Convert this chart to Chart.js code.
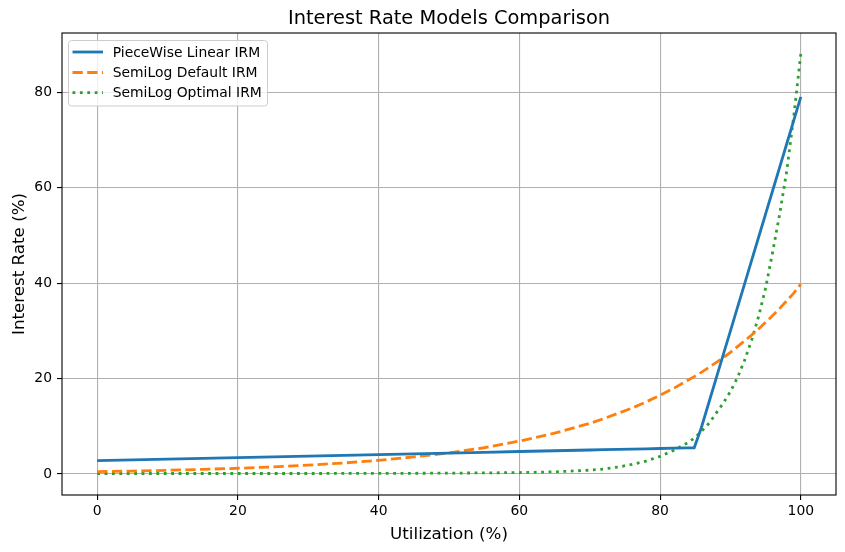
<!DOCTYPE html>
<html>
<head>
<meta charset="utf-8">
<script src="https://cdn.jsdelivr.net/npm/chart.js@4.4.1/dist/chart.umd.min.js"></script>
<style>
  html, body { margin: 0; padding: 0; background: #fff; }
  canvas { display: block; }
</style>
</head>
<body>
<canvas id="grafik" width="845" height="552"></canvas>
<script>
// utilisasi (%) - titik sampel
const utilisasi = [0, 5, 10, 15, 20, 25, 30, 35, 40, 45, 50, 55, 60, 65, 70, 72, 74, 76, 78, 80, 82, 84, 84.85, 85.86, 87, 88, 89, 90, 91, 92, 93, 94, 95, 96, 97, 98, 99, 100];

const pieceWise = [2.8, 2.96, 3.12, 3.28, 3.44, 3.6, 3.75, 3.91, 4.07, 4.23, 4.39, 4.55, 4.71, 4.87, 5.03, 5.09, 5.15, 5.22, 5.28, 5.34, 5.41, 5.47, 5.5, 9.7, 15.3, 20.2, 25.1, 30.0, 34.9, 39.8, 44.7, 49.6, 54.5, 59.4, 64.3, 69.2, 74.1, 79.0];
const semiLogDefault = [0.5, 0.62, 0.78, 0.97, 1.2, 1.49, 1.86, 2.3, 2.87, 3.57, 4.44, 5.5, 6.9, 8.55, 10.6, 11.6, 12.7, 13.8, 15.1, 16.5, 18.0, 19.7, 20.4, 21.3, 22.4, 23.4, 24.4, 25.5, 26.7, 27.9, 29.1, 30.4, 31.8, 33.2, 34.7, 36.3, 37.9, 39.8];
const semiLogOptimal = [0.1, 0.1, 0.1, 0.1, 0.1, 0.1, 0.1, 0.12, 0.13, 0.15, 0.18, 0.23, 0.3, 0.45, 0.8, 1.05, 1.45, 2.0, 2.7, 3.7, 5.0, 6.6, 7.5, 8.9, 10.7, 12.8, 14.9, 17.3, 20.2, 23.8, 28.0, 33.0, 39.0, 46.5, 54.5, 63.5, 75.0, 88.0];

const seriesLabels = ["PieceWise Linear IRM", "SemiLog Default IRM", "SemiLog Optimal IRM"];
const xTicks = [0, 20, 40, 60, 80, 100];
const yTicks = [0, 20, 40, 60, 80];

const FONT = "'DejaVu Sans', sans-serif";

function toPoints(arr) {
  return utilisasi.map((u, i) => ({ x: u, y: arr[i] }));
}

const hiasan = {
  id: "hiasan",
  afterDraw(chart) {
    const ctx = chart.ctx;
    const a = chart.chartArea;
    ctx.save();
    // bingkai
    ctx.strokeStyle = "#000";
    ctx.lineWidth = 1.1;
    ctx.strokeRect(a.left, a.top, a.right - a.left, a.bottom - a.top);

    // judul
    ctx.fillStyle = "#000";
    ctx.textAlign = "center";
    ctx.textBaseline = "alphabetic";
    ctx.font = "19.4px " + FONT;
    ctx.fillText("Interest Rate Models Comparison", (a.left + a.right) / 2, 24);

    // label sumbu
    ctx.font = "16.7px " + FONT;
    ctx.fillText("Utilization (%)", (a.left + a.right) / 2, 539);
    ctx.save();
    ctx.translate(24, (a.top + a.bottom) / 2);
    ctx.rotate(-Math.PI / 2);
    ctx.fillText("Interest Rate (%)", 0, 0);
    ctx.restore();

    // legenda
    const lx = 68.5, ly = 40.5, lw = 199, lh = 65.5;
    ctx.beginPath();
    ctx.roundRect(lx, ly, lw, lh, 3);
    ctx.fillStyle = "rgba(255,255,255,0.8)";
    ctx.fill();
    ctx.strokeStyle = "#cccccc";
    ctx.lineWidth = 1;
    ctx.stroke();

    const rows = [52, 72.5, 92.7];
    ctx.font = "13.9px " + FONT;
    ctx.textAlign = "left";
    ctx.textBaseline = "middle";
    chart.data.datasets.forEach((ds, i) => {
      ctx.beginPath();
      ctx.strokeStyle = ds.borderColor;
      ctx.lineWidth = ds.borderWidth;
      ctx.lineCap = "butt";
      ctx.setLineDash(ds.borderDash || []);
      ctx.moveTo(72.5, rows[i]);
      ctx.lineTo(103, rows[i]);
      ctx.stroke();
      ctx.setLineDash([]);
      ctx.fillStyle = "#000";
      ctx.fillText(ds.label, 112.7, rows[i] + 1);
    });
    ctx.restore();
  }
};

const ctx = document.getElementById("grafik").getContext("2d");
const chart = new Chart(ctx, {
  type: "line",
  data: {
    datasets: [
      {
        label: seriesLabels[0],
        data: toPoints(pieceWise),
        borderColor: "#1f77b4",
        borderWidth: 2.8,
        pointRadius: 0,
        fill: false
      },
      {
        label: seriesLabels[1],
        data: toPoints(semiLogDefault),
        borderColor: "#ff7f0e",
        borderWidth: 2.8,
        borderDash: [10.3, 4.4],
        borderCapStyle: "butt",
        pointRadius: 0,
        fill: false
      },
      {
        label: seriesLabels[2],
        data: toPoints(semiLogOptimal),
        borderColor: "#2ca02c",
        borderWidth: 2.8,
        borderDash: [2.8, 4.6],
        borderCapStyle: "butt",
        pointRadius: 0,
        fill: false
      }
    ]
  },
  options: {
    responsive: false,
    animation: false,
    layout: { padding: { top: 33, right: 9, left: 0, bottom: 0 } },
    plugins: {
      legend: { display: false },
      title: { display: false },
      tooltip: { enabled: false }
    },
    scales: {
      x: {
        type: "linear",
        min: -5,
        max: 105,
        afterBuildTicks: s => { s.ticks = xTicks.map(v => ({ value: v })); },
        afterFit: s => { s.height = 57; },
        border: { display: false },
        grid: { color: "#b0b0b0", lineWidth: 1.1, tickLength: 5, tickColor: "#000", tickWidth: 1.1 },
        ticks: { color: "#000", font: { family: FONT, size: 13.9 }, padding: 3, maxRotation: 0 }
      },
      y: {
        type: "linear",
        min: -4.4,
        max: 92.4,
        afterBuildTicks: s => { s.ticks = yTicks.map(v => ({ value: v })); },
        afterFit: s => { s.width = 62; },
        border: { display: false },
        grid: { color: "#b0b0b0", lineWidth: 1.1, tickLength: 5, tickColor: "#000", tickWidth: 1.1 },
        ticks: { color: "#000", font: { family: FONT, size: 13.9 }, padding: 5 }
      }
    }
  },
  plugins: [hiasan]
});
</script>
</body>
</html>
